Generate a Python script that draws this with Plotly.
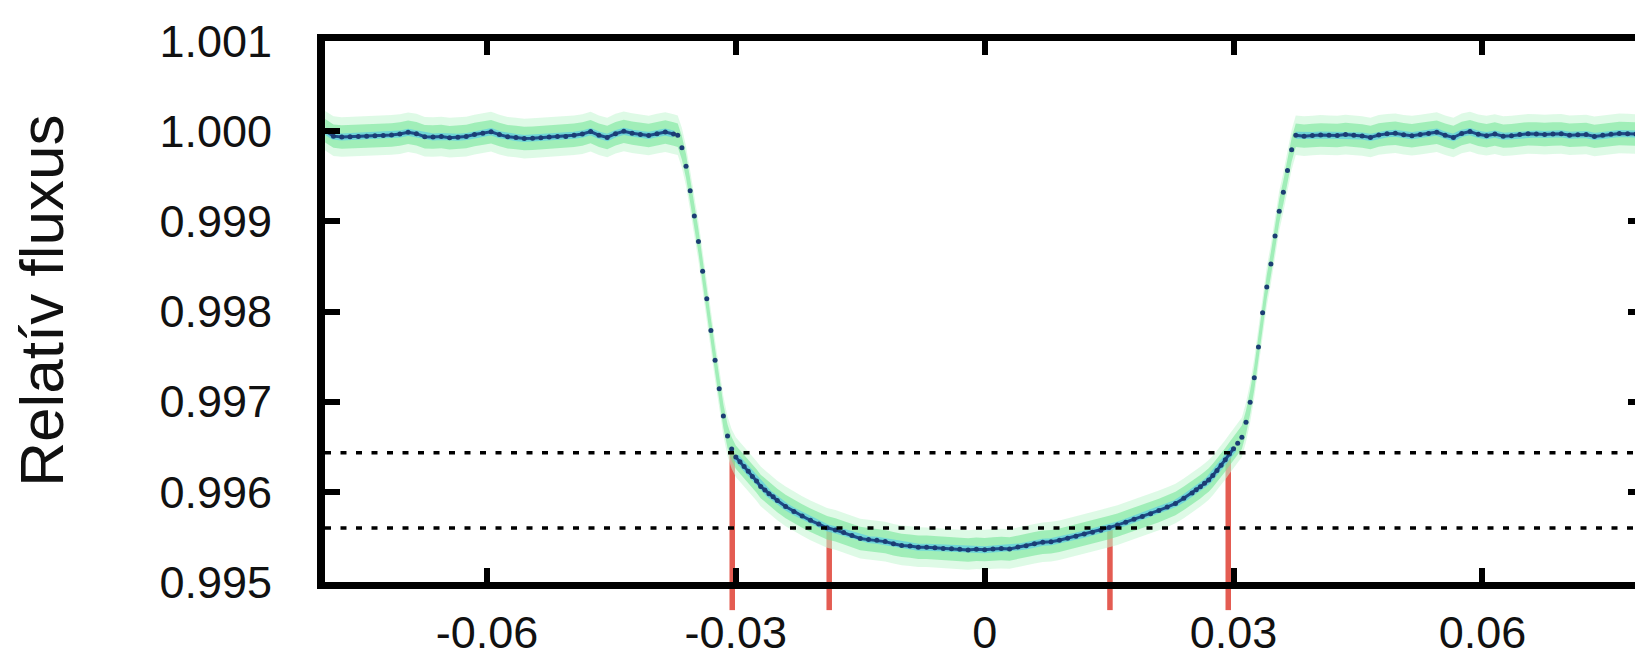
import plotly.graph_objects as go

# ---- binned light curve, split into its phases ----
LEFT_PHASE = [-0.0795, -0.0785, -0.0775, -0.0765, -0.0755, -0.0745, -0.0735, -0.0725,
              -0.0715, -0.0705, -0.0695, -0.0685, -0.0675, -0.0665, -0.0655, -0.0645,
              -0.0635, -0.0625, -0.0615, -0.0605, -0.0595, -0.0585, -0.0575, -0.0565,
              -0.0555, -0.0545, -0.0535, -0.0525, -0.0515, -0.0505, -0.0495, -0.0485,
              -0.0475, -0.0465, -0.0455, -0.0445, -0.0435, -0.0425, -0.0415, -0.0405,
              -0.0395, -0.0385, -0.0375]
LEFT_FLUX = [1.000005, 0.999945, 0.999935, 0.999938, 0.999942, 0.999944, 0.999950, 0.999953,
             0.999958, 0.999968, 0.999988, 0.999972, 0.999938, 0.999935, 0.999941, 0.999928,
             0.999932, 0.999940, 0.999962, 0.999978, 0.999994, 0.999962, 0.999938, 0.999930,
             0.999918, 0.999922, 0.999928, 0.999936, 0.999940, 0.999942, 0.999955, 0.999968,
             0.999995, 0.999955, 0.999930, 0.999972, 0.999998, 0.999978, 0.999962, 0.999952,
             0.999972, 0.999990, 0.999968]

INGRESS_PHASE = [-0.0370, -0.0365, -0.0360, -0.0355, -0.0350, -0.0345, -0.0340,
                 -0.0335, -0.0330, -0.0325, -0.0320, -0.0315, -0.0310, -0.0305]
INGRESS_FLUX = [0.999955, 0.999815, 0.999610, 0.999340, 0.999060, 0.998777, 0.998447,
                0.998142, 0.997790, 0.997460, 0.997144, 0.996841, 0.996618, 0.996475]

BOTTOM_PHASE = [-0.0300, -0.0295, -0.0290, -0.0285, -0.0280, -0.0275, -0.0270, -0.0265,
                -0.0260, -0.0255, -0.0250, -0.0240, -0.0230, -0.0220, -0.0210, -0.0200,
                -0.0190, -0.0180, -0.0170, -0.0160, -0.0150, -0.0140, -0.0130, -0.0120,
                -0.0110, -0.0100, -0.0090, -0.0080, -0.0070, -0.0060, -0.0050, -0.0040,
                -0.0030, -0.0020, -0.0010, 0.0000, 0.0010, 0.0020, 0.0030, 0.0040,
                0.0050, 0.0060, 0.0070, 0.0080, 0.0090, 0.0100, 0.0110, 0.0120,
                0.0130, 0.0140, 0.0150, 0.0160, 0.0170, 0.0180, 0.0190, 0.0200,
                0.0210, 0.0220, 0.0230, 0.0240, 0.0250, 0.0255, 0.0260, 0.0265,
                0.0270, 0.0275, 0.0280, 0.0285, 0.0290, 0.0295, 0.0300]
BOTTOM_FLUX = [0.996385, 0.996333, 0.996282, 0.996228, 0.996170, 0.996120, 0.996060, 0.996020,
               0.995978, 0.995945, 0.995904, 0.995838, 0.995782, 0.995732, 0.995684, 0.995642,
               0.995601, 0.995578, 0.995548, 0.995516, 0.995482, 0.995470, 0.995462, 0.995448,
               0.995424, 0.995406, 0.995398, 0.995386, 0.995385, 0.995379, 0.995371, 0.995368,
               0.995362, 0.995355, 0.995363, 0.995359, 0.995367, 0.995371, 0.995366, 0.995387,
               0.995402, 0.995424, 0.995441, 0.995447, 0.995463, 0.995486, 0.995508, 0.995531,
               0.995553, 0.995575, 0.995605, 0.995631, 0.995662, 0.995696, 0.995727, 0.995758,
               0.995794, 0.995831, 0.995871, 0.995928, 0.995988, 0.996022, 0.996057, 0.996094,
               0.996132, 0.996181, 0.996236, 0.996294, 0.996356, 0.996420, 0.996478]

EGRESS_PHASE = [0.0305, 0.0310, 0.0315, 0.0320, 0.0325, 0.0330, 0.0335,
                0.0340, 0.0345, 0.0350, 0.0355, 0.0360, 0.0365, 0.0370]
EGRESS_FLUX = [0.996540, 0.996605, 0.996772, 0.996993, 0.997266, 0.997607, 0.997985,
               0.998273, 0.998527, 0.998838, 0.999113, 0.999322, 0.999565, 0.999793]

RIGHT_PHASE = [0.0375, 0.0385, 0.0395, 0.0405, 0.0415, 0.0425, 0.0435, 0.0445,
               0.0455, 0.0465, 0.0475, 0.0485, 0.0495, 0.0505, 0.0515, 0.0525,
               0.0535, 0.0545, 0.0555, 0.0565, 0.0575, 0.0585, 0.0595, 0.0605,
               0.0615, 0.0625, 0.0635, 0.0645, 0.0655, 0.0665, 0.0675, 0.0685,
               0.0695, 0.0705, 0.0715, 0.0725, 0.0735, 0.0745, 0.0755, 0.0765,
               0.0775, 0.0785]
RIGHT_FLUX = [0.999955, 0.999945, 0.999952, 0.999958, 0.999955, 0.999952, 0.999962, 0.999955,
              0.999946, 0.999930, 0.999958, 0.999970, 0.999977, 0.999960, 0.999950, 0.999962,
              0.999975, 0.999989, 0.999955, 0.999930, 0.999975, 0.999995, 0.999965, 0.999950,
              0.999968, 0.999945, 0.999950, 0.999962, 0.999970, 0.999968, 0.999962, 0.999968,
              0.999970, 0.999955, 0.999960, 0.999963, 0.999942, 0.999955, 0.999965, 0.999975,
              0.999972, 0.999968]

# half-width of the unbinned scatter cloud around the binned curve
NOISE_OUTER = 0.00022
NOISE_INNER = 0.00013

# dotted flux levels and the contact-point markers dropped from them
LEVELS = [0.996433, 0.995598]
CONTACT_PHASE = [-0.03043, -0.01874, 0.01510, 0.02936]
CONTACT_FLUX = [0.996433, 0.995598, 0.995598, 0.996433]

X_TICKS = [-0.06, -0.03, 0.0, 0.03, 0.06]
X_TICK_TEXT = ["-0.06", "-0.03", "0", "0.03", "0.06"]
Y_TICKS = [0.995, 0.996, 0.997, 0.998, 0.999, 1.000, 1.001]
Y_TICK_TEXT = ["0.995", "0.996", "0.997", "0.998", "0.999", "1.000", "1.001"]
Y_RIGHT_TICKS = [0.996, 0.997, 0.998, 0.999]

X_RANGE = [-0.07952, 0.07839]
Y_RANGE = [0.995, 1.001]
Y_TITLE = "Relatív fluxus"

# ---- assemble ----
all_x = LEFT_PHASE + INGRESS_PHASE + BOTTOM_PHASE + EGRESS_PHASE + RIGHT_PHASE
all_y = LEFT_FLUX + INGRESS_FLUX + BOTTOM_FLUX + EGRESS_FLUX + RIGHT_FLUX

line_x = LEFT_PHASE + [None] + BOTTOM_PHASE + [None] + RIGHT_PHASE
line_y = LEFT_FLUX + [None] + BOTTOM_FLUX + [None] + RIGHT_FLUX

FONT = "Liberation Sans, Arial, sans-serif"
TICK_FONT = dict(family=FONT, size=45, color="#111111")

fig = go.Figure()


def band(half, color):
    fig.add_trace(go.Scatter(x=all_x, y=[v - half for v in all_y], mode="lines",
                             line=dict(width=0, color=color), hoverinfo="skip",
                             showlegend=False))
    fig.add_trace(go.Scatter(x=all_x, y=[v + half for v in all_y], mode="lines",
                             line=dict(width=0, color=color), fill="tonexty",
                             fillcolor=color, hoverinfo="skip", showlegend=False))


band(NOISE_OUTER, "rgba(195,245,210,0.55)")
band(NOISE_INNER, "rgba(115,230,150,0.58)")

# cyan halo and dark blue binned curve
fig.add_trace(go.Scatter(x=line_x, y=line_y, mode="lines",
                         line=dict(color="rgba(95,205,225,0.75)", width=7),
                         hoverinfo="skip", showlegend=False))
fig.add_trace(go.Scatter(x=line_x, y=line_y, mode="lines",
                         line=dict(color="#1d4b88", width=3),
                         hoverinfo="skip", showlegend=False))
fig.add_trace(go.Scatter(x=all_x, y=all_y, mode="markers",
                         marker=dict(color="#1b3d74", size=5),
                         hoverinfo="skip", showlegend=False))
# empty trace that puts the right-hand tick axis on the page
fig.add_trace(go.Scatter(x=[None], y=[None], yaxis="y2", mode="lines",
                         hoverinfo="skip", showlegend=False))

shapes = []
for lv in LEVELS:
    shapes.append(dict(type="line", xref="paper", x0=0, x1=1, yref="y", y0=lv, y1=lv,
                       line=dict(color="black", width=3.5, dash="6px,9.5px"),
                       layer="above"))
for cx, cy in zip(CONTACT_PHASE, CONTACT_FLUX):
    red = dict(color="rgb(228,92,82)", width=5.5)
    shapes.append(dict(type="line", xref="x", x0=cx, x1=cx, yref="y",
                       y0=cy, y1=Y_RANGE[0], line=red, layer="below"))
    shapes.append(dict(type="line", xref="x", x0=cx, x1=cx, yref="paper",
                       y0=0, y1=-0.052, line=red, layer="below"))

fig.update_layout(
    width=1635, height=659,
    margin=dict(l=325, r=0, t=41, b=77, pad=0, autoexpand=False),
    paper_bgcolor="white", plot_bgcolor="white",
    font=dict(family=FONT, size=45, color="#111111"),
    showlegend=False,
    shapes=shapes,
    xaxis=dict(range=X_RANGE, tickvals=X_TICKS, ticktext=X_TICK_TEXT,
               showgrid=False, zeroline=False, automargin=False,
               showline=True, linecolor="black", linewidth=7, mirror="ticks",
               ticks="inside", ticklen=14, tickwidth=6, tickcolor="black",
               ticklabelstandoff=5, tickfont=TICK_FONT),
    yaxis=dict(range=Y_RANGE, tickvals=Y_TICKS, ticktext=Y_TICK_TEXT,
               showgrid=False, zeroline=False, automargin=False,
               showline=True, linecolor="black", linewidth=8, mirror=False,
               ticks="inside", ticklen=15, tickwidth=6, tickcolor="black",
               ticklabelstandoff=36, tickfont=TICK_FONT),
    yaxis2=dict(range=Y_RANGE, overlaying="y", side="right", anchor="x",
                tickvals=Y_RIGHT_TICKS, showticklabels=False, automargin=False,
                showgrid=False, zeroline=False, showline=False,
                ticks="inside", ticklen=7, tickwidth=6, tickcolor="black"),
    annotations=[dict(text=Y_TITLE, xref="paper", yref="paper",
                      x=-0.216, y=0.52, xanchor="center", yanchor="middle",
                      textangle=-90, showarrow=False,
                      font=dict(family=FONT, size=62, color="#111111"))],
)

fig.write_html("out.html", include_plotlyjs=True, config={"displayModeBar": False})
